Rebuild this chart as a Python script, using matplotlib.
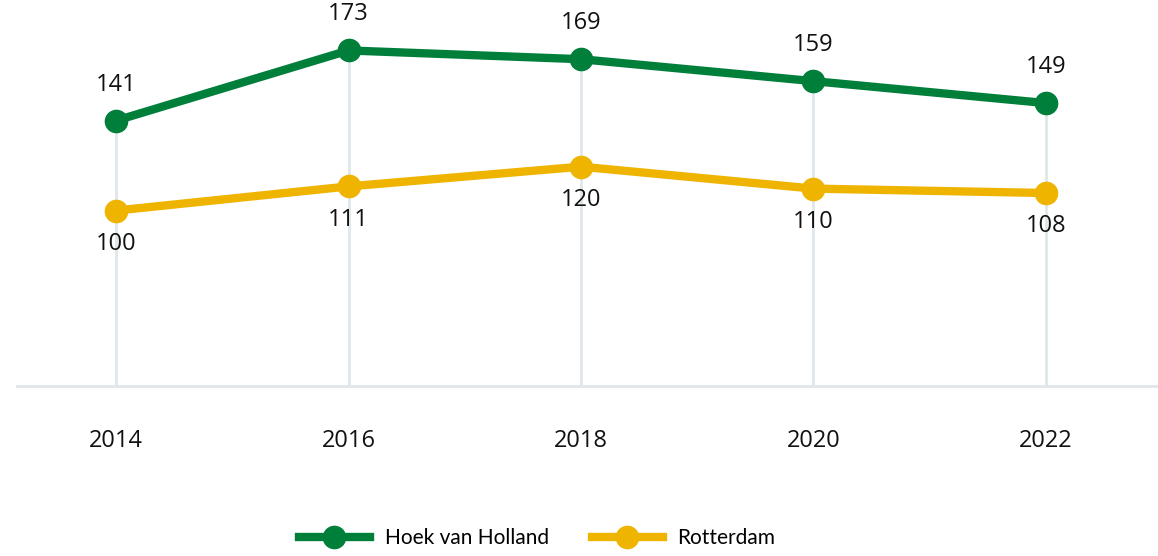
import matplotlib.pyplot as plt

plt.rcParams['font.family'] = ['Open Sans', 'DejaVu Sans']

years = ['2014', '2016', '2018', '2020', '2022']
hoek = [141, 173, 169, 159, 149]
rotterdam = [100, 111, 120, 110, 108]

green = '#007f3b'
yellow = '#efb400'
grid = '#dfe7eb'

fig = plt.figure(figsize=(11.58, 5.56), dpi=100)
ax = fig.add_axes([17 / 1158, (556 - 386) / 556, 1 - 17 / 1158, 386 / 556])

x = list(range(len(years)))
ymin, ymax = 20, 196

# vertical guide lines from baseline up to the highest point
for i in x:
    ax.plot([i, i], [ymin, max(hoek[i], rotterdam[i])], color=grid, lw=2, zorder=1)

ax.plot(x, hoek, color=green, lw=6, marker='o', ms=16, label='Hoek van Holland', zorder=3)
ax.plot(x, rotterdam, color=yellow, lw=6, marker='o', ms=16, label='Rotterdam', zorder=3)

for i in x:
    ax.annotate(str(hoek[i]), (i, hoek[i]), xytext=(0, 26), textcoords='offset points',
                ha='center', va='center', fontsize=17, color='#111111')
    ax.annotate(str(rotterdam[i]), (i, rotterdam[i]), xytext=(0, -24), textcoords='offset points',
                ha='center', va='center', fontsize=17, color='#111111')

ax.set_xlim(-0.426, 4.482)
ax.set_ylim(ymin, ymax)
ax.set_xticks(x)
ax.set_xticklabels(years, fontsize=17, color='#111111')
ax.set_yticks([])
ax.tick_params(axis='x', length=0, pad=31)

for s in ['top', 'right', 'left']:
    ax.spines[s].set_visible(False)
ax.spines['bottom'].set_color(grid)
ax.spines['bottom'].set_linewidth(2)

fig.legend(loc='center', bbox_to_anchor=(0.464, 0.032), ncol=2, frameon=False,
           prop={'family': 'Lato', 'size': 15}, handlelength=3.4,
           handletextpad=0.72, columnspacing=2.05)

plt.savefig('out.png', dpi=100)
